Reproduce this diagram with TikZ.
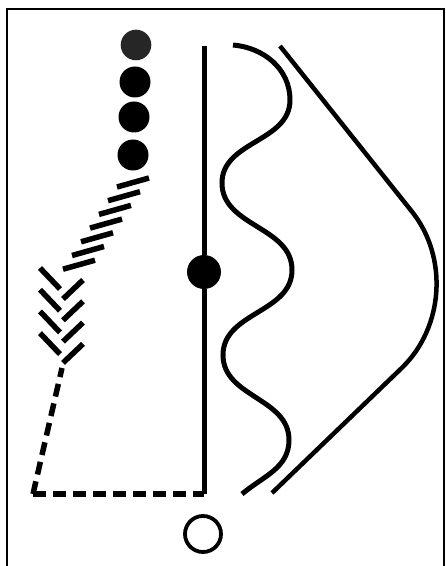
\documentclass[tikz,border=0pt]{standalone}
\usepackage{tikz}
\usetikzlibrary{positioning}
\tikzset{
  ink/.style={line width=5pt},
  stroke/.style={line width=5.5pt},
  dashink/.style={line width=5.5pt, dash pattern=on 13pt off 7pt},
  dot/.style={circle, fill, inner sep=0pt, minimum size=#1},
}
\begin{document}
\begin{tikzpicture}[x=1pt, y=1pt]
  \fill[white] (0,0) rectangle (446,566);
  \useasboundingbox (0,0) rectangle (446,566);

  % Frame
  \draw[line width=1.8pt] (7,0) |- (444,557) -- (444,0);

  % Column of dots
  \node[dot=30.6pt, black!85] (d1) at (136,521) {};
  \node[dot=31pt] (d2) at (135,484) {};
  \node[dot=31pt] (d3) at (134,449) {};
  \node[dot=31pt] (d4) at (133,411) {};

  % Stem with hub and ring
  \coordinate (stemtop) at (204,520);
  \coordinate (stembot) at (204,72);
  \node[dot=34pt] (hub) at (204,294) {};
  \draw[ink] (stemtop) -- (hub) -- (stembot);
  \node[circle, draw, line width=3.8pt, inner sep=0pt, minimum size=36pt]
    (ring) at (203,32) {};

  % Hatched run
  \foreach \i in {0,...,6}
    \draw[stroke] ({117-9*\i},{379-13.7*\i}) -- ++(32,9);

  % Chevrons
  \foreach \i in {0,...,3} {
    \draw[stroke] (40,{298-21.7*\i}) -- ++(20,-21);
    \draw[stroke] (63,{267-21.3*\i}) -- ++(20,19);
  }

  % Dashed corner
  \coordinate (corner) at (33,72);
  \coordinate (tail) at (62,198);
  \draw[dashink] (corner) -- (tail);
  \draw[dashink] (corner) -- (stembot);

  % Wave
  \draw[ink] (233,521) to[out=-5,in=90] (290,466)
    to[out=-90,in=90] (222,383) to[out=-90,in=90] (292,296)
    to[out=-90,in=90] (223,211) to[out=-90,in=90] (289,126)
    to[out=-90,in=40] (242,72);

  % Bow
  \draw[line width=4.5pt, rounded corners=106pt]
    (280,520) -- (478,271.5) -- (272,73);
\end{tikzpicture}
\end{document}
